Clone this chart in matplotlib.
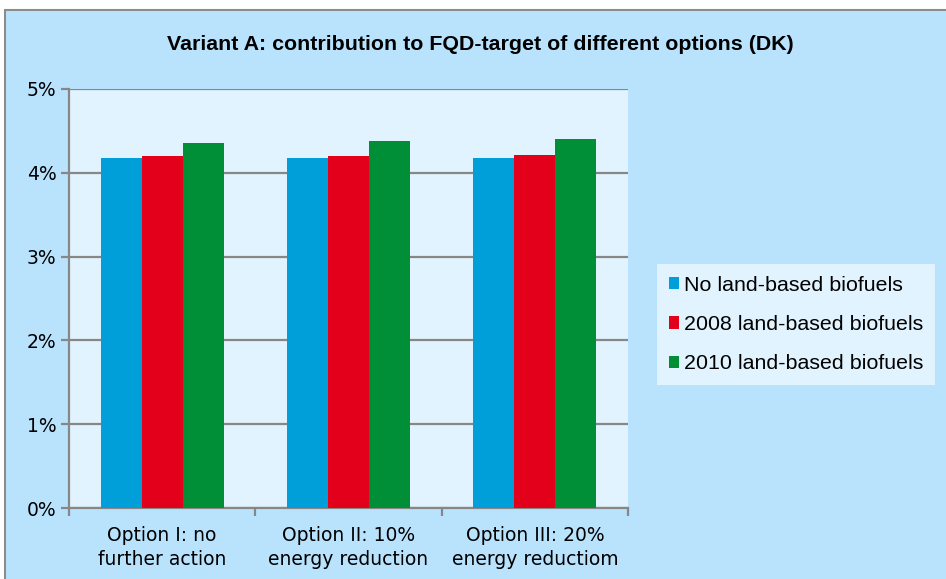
import matplotlib
matplotlib.use("Agg")
import matplotlib.pyplot as plt
import numpy as np
from matplotlib.patches import Rectangle, Patch
from matplotlib.ticker import PercentFormatter

categories = ["Option I: no\nfurther action", "Option II: 10%\nenergy reduction", "Option III: 20%\nenergy reductiom"]
series_names = ["No land-based biofuels", "2008 land-based biofuels", "2010 land-based biofuels"]
no_land = [4.18, 4.18, 4.18]
land_2008 = [4.20, 4.205, 4.21]
land_2010 = [4.35, 4.38, 4.40]
series_values = [no_land, land_2008, land_2010]
colors = ["#009FDA", "#E2001A", "#008F36"]
yticks = [0, 1, 2, 3, 4, 5]

OUTER = "#B9E3FD"
INNER = "#E1F3FE"
GRID = "#878787"

fig = plt.figure(figsize=(9.46, 5.79), dpi=100, facecolor="white")
W, H = 946, 579
fig.patches.append(Rectangle((5 / W, -0.05), 1.1, 1 - 10 / H + 0.05, transform=fig.transFigure,
                             facecolor=OUTER, edgecolor="#8C8C8C", linewidth=1.5, zorder=-10))

ax = fig.add_axes([69 / W, 1 - 508 / H, (628 - 69) / W, (508 - 89) / H])
ax.set_facecolor(INNER)

x = np.arange(len(categories))
bw = 0.22
for i, (vals, c, name) in enumerate(zip(series_values, colors, series_names)):
    ax.bar(x + (i - 1) * bw, vals, width=bw, color=c, label=name, zorder=3)

ax.set_xlim(-0.5, len(categories) - 0.5)
ax.set_ylim(0, 5)
ax.set_yticks(yticks)
ax.yaxis.set_major_formatter(PercentFormatter(decimals=0))
ax.grid(axis="y", color=GRID, linewidth=1.6, zorder=1)
ax.set_axisbelow(True)

for s in ["top", "right"]:
    ax.spines[s].set_visible(False)
for s in ["left", "bottom"]:
    ax.spines[s].set_color(GRID)
    ax.spines[s].set_linewidth(1.6)

ax.set_xticks(np.arange(len(categories) + 1) - 0.5)
ax.set_xticklabels([])
ax.set_xticks(x, minor=True)
ax.set_xticklabels(categories, minor=True, fontsize=13.5, family="DejaVu Sans", linespacing=1.3)
ax.tick_params(axis="x", which="major", direction="out", length=6, width=1.6, color=GRID)
ax.tick_params(axis="x", which="minor", length=0, pad=13)
ax.tick_params(axis="y", direction="out", length=6, width=1.6, color=GRID, labelsize=13.5, pad=3)
for t in ax.get_yticklabels():
    t.set_family("DejaVu Sans")

fig.text(480 / W, 1 - 45 / H, "Variant A: contribution to FQD-target of different options (DK)",
         ha="center", va="center", fontsize=15.4, fontweight="bold", family="Liberation Sans")

handles = [Patch(facecolor=c, edgecolor="none") for c in colors]
leg = fig.legend(handles, series_names, loc="upper left",
                 bbox_to_anchor=(657 / W, 1 - 264 / H), bbox_transform=fig.transFigure,
                 frameon=True, fancybox=False, facecolor=INNER, edgecolor="none", framealpha=1,
                 prop={"family": "Liberation Sans", "size": 15.4}, handlelength=0.5, handleheight=0.5,
                 handletextpad=0.2, labelspacing=0.95, borderpad=0.55, borderaxespad=0)
leg.get_frame().set_linewidth(0)

fig.savefig("out.png", dpi=100, facecolor="white")
